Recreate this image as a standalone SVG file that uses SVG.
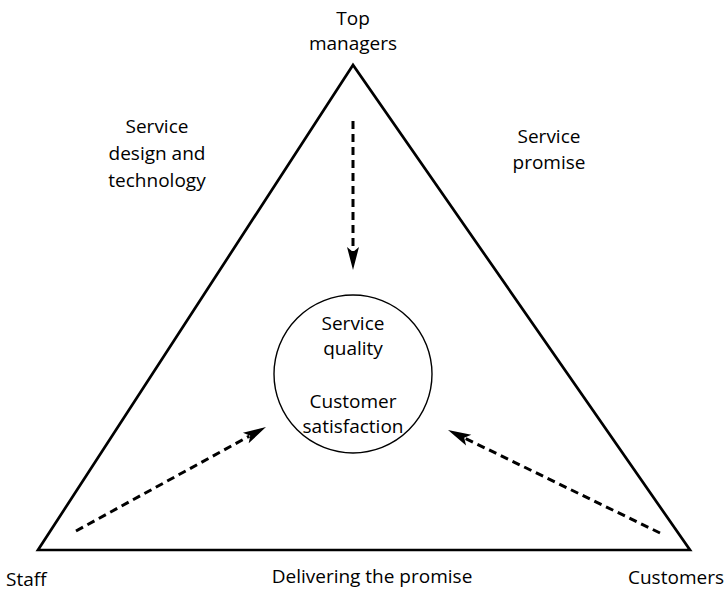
<svg xmlns="http://www.w3.org/2000/svg" xmlns:xlink="http://www.w3.org/1999/xlink" width="727" height="592" viewBox="0 0 727 592">
<style>
text{font-family:"Open Sans","Noto Sans","Liberation Sans",sans-serif;font-size:19px;fill:#000;text-anchor:middle}
.dash{stroke:#000;stroke-width:3;stroke-dasharray:8,5;fill:none}
.head{fill:#000;stroke:none}
</style>
<defs>
<path id="ah" class="head" d="M0,0 L-23,-6 L-18,0 L-23,6 Z"/>
</defs>
<rect width="727" height="592" fill="#fff"/>
<g id="triangle"><polygon points="353,65 38,550 690,550" fill="none" stroke="#000" stroke-width="2.7" stroke-linejoin="miter"/></g>
<g id="center"><circle cx="353" cy="374" r="79" fill="none" stroke="#000" stroke-width="1.4"/>
<text x="353" y="330">Service</text><text x="353" y="355">quality</text>
<text x="353" y="408">Customer</text><text x="353" y="433">satisfaction</text></g>
<g id="top"><text x="353" y="25">Top</text><text x="353" y="50">managers</text></g>
<g id="staff"><text x="6" y="586" style="text-anchor:start">Staff</text></g>
<g id="customers"><text x="628" y="584" style="text-anchor:start">Customers</text></g>
<g id="l1"><text x="157" y="133">Service</text><text x="157" y="160">design and</text><text x="157" y="187">technology</text></g>
<g id="l2"><text x="549" y="143">Service</text><text x="549" y="169">promise</text></g>
<g id="l3"><text x="372" y="583">Delivering the promise</text></g>
<g id="connectors">
<line class="dash" x1="353" y1="121" x2="353" y2="252"/>
<use xlink:href="#ah" transform="translate(353,270) rotate(90)"/>
<line class="dash" x1="76" y1="531" x2="249.3" y2="436.1"/>
<use xlink:href="#ah" transform="translate(266,427) rotate(-28.7)"/>
<line class="dash" x1="660" y1="533" x2="465.1" y2="438.3"/>
<use xlink:href="#ah" transform="translate(448,430) rotate(205.9)"/>
</g>
</svg>
